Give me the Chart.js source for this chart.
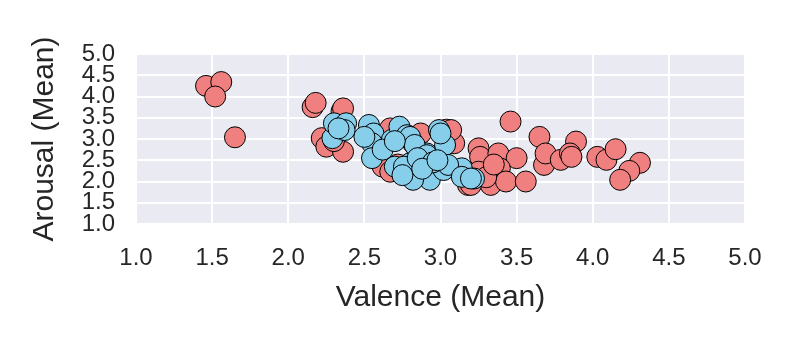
<!DOCTYPE html>
<html>
<head>
<meta charset="utf-8">
<script src="https://cdn.jsdelivr.net/npm/chart.js@4/dist/chart.umd.min.js"></script>
<style>
  body { margin: 0; background: #fff; }
</style>
</head>
<body>
<canvas id="scatter" width="800" height="350"></canvas>
<script>
// valence / arousal means
const redValence = [1.46, 1.56, 1.52, 1.65, 2.16, 2.18, 2.35, 2.36, 2.22, 2.25, 2.36, 2.30,
  2.67, 2.87, 3.04, 3.06, 3.09, 2.62, 2.67, 2.72, 3.18, 3.20, 2.95, 2.85,
  3.46, 3.65, 3.89, 4.03, 3.25, 3.26, 3.38, 3.50, 3.39, 3.33, 3.43, 3.56, 3.68, 3.69,
  3.79, 3.85, 3.25, 3.20, 3.07, 3.86, 4.09, 4.15, 4.31, 4.24, 4.18, 3.30, 3.35];
const redArousal = [4.25, 4.34, 4.00, 3.04, 3.75, 3.85, 3.65, 3.72, 3.02, 2.82, 2.70, 2.95,
  3.25, 3.13, 3.22, 3.02, 2.90, 2.35, 2.23, 2.40, 1.92, 2.00, 2.55, 2.70,
  3.41, 3.05, 2.94, 2.58, 2.78, 2.58, 2.66, 2.55, 2.31, 1.92, 2.00, 2.00, 2.39, 2.66,
  2.51, 2.66, 2.23, 1.92, 3.21, 2.58, 2.51, 2.76, 2.44, 2.25, 2.04, 2.10, 2.40];

const blueValence = [2.29, 2.30, 2.38, 2.37, 2.33, 2.53, 2.56, 2.55, 2.55, 2.50, 2.68, 2.70,
  2.73, 2.78, 2.80, 2.82, 2.91, 2.91, 2.99, 3.03, 2.93, 3.02, 3.14, 3.22, 2.82, 2.80,
  2.83, 2.91, 3.00, 3.05, 3.14, 3.20, 2.76, 2.85, 2.95, 2.62, 2.75, 2.88, 2.98, 2.70];
const blueArousal = [3.02, 3.37, 3.37, 3.21, 3.25, 3.33, 3.13, 2.90, 2.55, 3.05, 2.98, 2.35,
  3.29, 3.09, 2.43, 2.90, 2.66, 2.11, 3.21, 2.86, 2.04, 2.27, 2.31, 2.07, 2.04, 3.05,
  2.86, 2.62, 3.13, 2.39, 2.11, 2.07, 2.35, 2.55, 2.45, 2.75, 2.15, 2.30, 2.50, 2.95];

const axisTicks = [1.0, 1.5, 2.0, 2.5, 3.0, 3.5, 4.0, 4.5, 5.0];

const toPoints = (xs, ys) => xs.map((x, i) => ({ x: x, y: ys[i] }));

// seaborn-ish plot background
const bgPlugin = {
  id: "plotBg",
  beforeDraw(chart) {
    const a = chart.chartArea;
    const ctx = chart.ctx;
    ctx.save();
    ctx.fillStyle = "#eaeaf2";
    ctx.fillRect(a.left, a.top, a.right - a.left, a.bottom - a.top);
    ctx.restore();
  }
};

const tickFont = { family: "'Liberation Sans', Arial, sans-serif", size: 24 };
const titleFont = { family: "'Liberation Sans', Arial, sans-serif", size: 30 };

const gridOpts = { color: "#ffffff", lineWidth: 2, drawTicks: false };

new Chart(document.getElementById("scatter").getContext("2d"), {
  type: "scatter",
  data: {
    datasets: [
      {
        label: "blue",
        data: toPoints(blueValence, blueArousal),
        backgroundColor: "#87ceeb",
        borderColor: "#000000",
        borderWidth: 1,
        pointRadius: 10.5,
        order: 0
      },
      {
        label: "red",
        data: toPoints(redValence, redArousal),
        backgroundColor: "#f08080",
        borderColor: "#000000",
        borderWidth: 1,
        pointRadius: 10.5,
        order: 1
      }
    ]
  },
  options: {
    responsive: false,
    animation: false,
    layout: { padding: { top: 54, right: 55, bottom: 0, left: 0 } },
    plugins: { legend: { display: false }, tooltip: { enabled: false } },
    scales: {
      x: {
        type: "linear",
        min: axisTicks[0],
        max: axisTicks[axisTicks.length - 1],
        afterFit: s => { s.height = 126; },
        afterBuildTicks: s => { s.ticks = axisTicks.map(v => ({ value: v })); },
        grid: gridOpts,
        border: { display: false },
        ticks: { color: "#262626", font: tickFont, padding: 20, maxRotation: 0,
          callback: v => v.toFixed(1) },
        title: { display: true, text: "Valence (Mean)", color: "#262626", font: titleFont,
          padding: { top: 0, bottom: 34 } }
      },
      y: {
        type: "linear",
        min: axisTicks[0],
        max: axisTicks[axisTicks.length - 1],
        afterFit: s => { s.width = 136; },
        afterBuildTicks: s => { s.ticks = axisTicks.map(v => ({ value: v })); },
        grid: gridOpts,
        border: { display: false },
        ticks: { color: "#262626", font: tickFont, padding: 21, autoSkip: false,
          callback: v => v.toFixed(1) },
        // left axis: title offset comes from padding.top
        title: { display: true, text: "Arousal (Mean)", color: "#262626", font: titleFont,
          padding: { top: 27, bottom: 0 } }
      }
    }
  },
  plugins: [bgPlugin]
});
</script>
</body>
</html>
